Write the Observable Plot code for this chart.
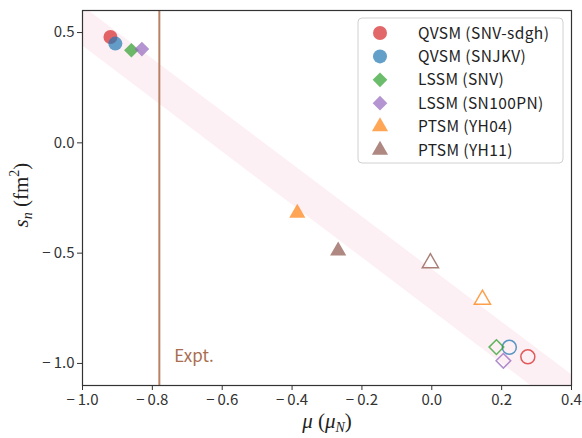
<!DOCTYPE html>
<html><head><meta charset="utf-8">
<script src="https://cdn.jsdelivr.net/npm/d3@7"></script>
<script src="https://cdn.jsdelivr.net/npm/@observablehq/plot@0.6"></script>
<style>body{margin:0;background:#fff;} #chart{position:relative;width:582px;height:438px;}</style>
</head><body><div id="chart"></div>
<script>
const series = ["QVSM (SNV-sdgh)", "QVSM (SNJKV)", "LSSM (SNV)", "LSSM (SN100PN)", "PTSM (YH04)", "PTSM (YH11)"];
const colors = ["#d62728", "#1f77b4", "#2ca02c", "#9467bd", "#ff7f0e", "#8c564b"];
const symbols = ["circle", "circle", "diamond2", "diamond2", "triangle", "triangle"];
const radii = [7, 7, 6.6, 6.6, 6.0, 6.0];
const filledMu = [-0.92, -0.906, -0.86, -0.83, -0.385, -0.268];
const filledSn = [0.48, 0.45, 0.42, 0.425, -0.318, -0.49];
const openMu = [0.275, 0.222, 0.185, 0.205, 0.145, -0.004];
const openSn = [-0.97, -0.927, -0.926, -0.988, -0.71, -0.545];
const bandMu = [-1.0, 0.4];
const bandLow = [0.44, -1.24];
const bandHigh = [0.62, -1.05];
const exptMu = -0.78;
const exptLabel = "Expt.";
const xTicks = [-1.0, -0.8, -0.6, -0.4, -0.2, 0.0, 0.2, 0.4];
const yTicks = [-1.0, -0.5, 0.0, 0.5];

const filled = series.map((s, i) => ({series: s, mu: filledMu[i], sn: filledSn[i], r: radii[i]}));
const open = series.map((s, i) => ({series: s, mu: openMu[i], sn: openSn[i], r: radii[i]}));
const band = bandMu.map((m, i) => ({mu: m, lo: bandLow[i], hi: bandHigh[i]}));

const fmt = v => (v < 0 ? "\u2212\u2009" : "") + Math.abs(v).toFixed(1);
const W = 582, H = 438;
const plot = Plot.plot({
  width: W, height: H,
  marginLeft: 82, marginRight: 11, marginTop: 10, marginBottom: 53,
  style: {fontFamily: "'Noto Sans CJK JP', 'Noto Sans', sans-serif", fontSize: "15px", color: "#333", background: "#fff"},
  x: {domain: [-1.0, 0.4], ticks: xTicks, tickFormat: fmt, label: null, tickSize: 5, tickPadding: 4},
  y: {domain: [-1.1, 0.6], ticks: yTicks, tickFormat: fmt, label: null, tickSize: 5, tickPadding: 3},
  color: {domain: series, range: colors},
  symbol: {domain: series, range: symbols},
  r: {type: "identity"},
  marks: [
    Plot.areaY(band, {x: "mu", y1: "lo", y2: "hi", fill: "#fdf0f4", clip: true}),
    Plot.ruleX([exptMu], {stroke: "#b98164", strokeWidth: 2}),
    Plot.text([exptMu], {x: d => d + 0.043, y: -0.968, text: () => exptLabel, textAnchor: "start", fill: "#a96e50", fontSize: 17, fontFamily: "'Noto Sans CJK JP', sans-serif"}),
    Plot.dot(filled, {x: "mu", y: "sn", symbol: "series", fill: "series", fillOpacity: 0.7, stroke: "none", r: "r"}),
    Plot.dot(open, {x: "mu", y: "sn", symbol: "series", fill: "none", stroke: "series", strokeOpacity: 0.75, strokeWidth: 1.5, r: "r"}),
    Plot.frame({stroke: "#333", strokeWidth: 1.2})
  ]
});
document.getElementById("chart").appendChild(plot);

const svg = d3.select(plot);
// axis labels
const xl = svg.append("text").attr("x", 327).attr("y", 428).attr("text-anchor", "middle")
  .attr("font-family", "'Liberation Serif', 'DejaVu Serif', serif").attr("font-size", 21).attr("fill", "#222");
xl.append("tspan").attr("font-style", "italic").text("μ");
xl.append("tspan").text(" (");
xl.append("tspan").attr("font-style", "italic").text("μ");
xl.append("tspan").attr("font-style", "italic").attr("font-size", 14).attr("dy", 4).text("N");
xl.append("tspan").attr("dy", -4).text(")");
const yl = svg.append("text").attr("transform", "translate(28,195) rotate(-90)").attr("text-anchor", "middle")
  .attr("font-family", "'Liberation Serif', 'DejaVu Serif', serif").attr("font-size", 21).attr("fill", "#222");
yl.append("tspan").attr("font-style", "italic").text("s");
yl.append("tspan").attr("font-style", "italic").attr("font-size", 14).attr("dy", 4).text("n");
yl.append("tspan").attr("dy", -4).text(" (fm");
yl.append("tspan").attr("font-size", 14).attr("dy", -9).text("2");
yl.append("tspan").attr("dy", 9).text(")");

// legend
const lg = svg.append("g").attr("text-anchor", "start");
lg.append("rect").attr("x", 358).attr("y", 18).attr("width", 205).attr("height", 145).attr("rx", 4)
  .attr("fill", "#fff").attr("fill-opacity", 0.85).attr("stroke", "#d0d0d0");
const symMap = {circle: d3.symbolCircle, diamond2: d3.symbolDiamond2, triangle: d3.symbolTriangle};
series.forEach((s, i) => {
  const y = 33 + i * 23.4;
  lg.append("path").attr("transform", `translate(380,${y})`)
    .attr("d", d3.symbol(symMap[symbols[i]], Math.PI * radii[i] * radii[i])())
    .attr("fill", colors[i]).attr("fill-opacity", 0.7);
  lg.append("text").attr("x", 418).attr("y", y).attr("dy", "0.36em").attr("text-anchor", "start")
    .attr("font-family", "'Noto Sans CJK JP', 'Noto Sans', sans-serif").attr("font-size", 15.5)
    .attr("letter-spacing", "0.4px").attr("fill", "#222").text(s);
});
</script>
</body></html>
